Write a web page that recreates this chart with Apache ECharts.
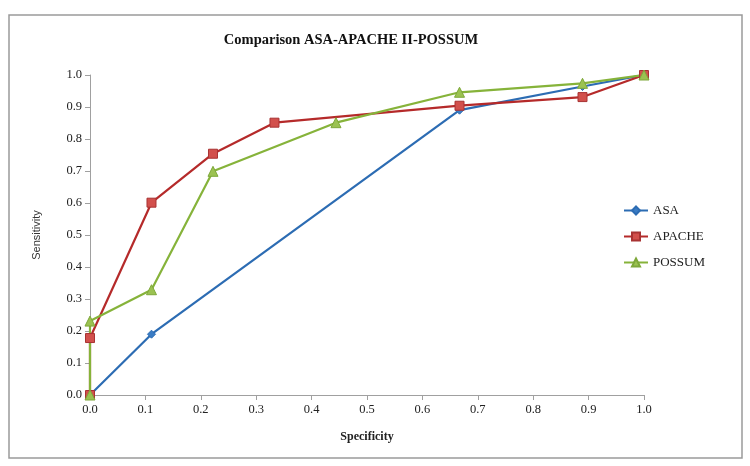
<!DOCTYPE html>
<html>
<head>
<meta charset="utf-8">
<script src="https://cdn.jsdelivr.net/npm/echarts@6/dist/echarts.min.js"></script>
<style>html,body{margin:0;padding:0;background:#fff}#c{width:750px;height:466px}</style>
</head>
<body>
<div id="c"></div>
<script>
const titleText = 'Comparison ASA-APACHE II-POSSUM';
const seriesNames = ['ASA', 'APACHE', 'POSSUM'];
const asaX = [0, 0.111, 0.667, 0.889, 1.0];
const asaY = [0, 0.19, 0.89, 0.964, 1.0];
const apacheX = [0, 0, 0.111, 0.222, 0.333, 0.667, 0.889, 1.0];
const apacheY = [0, 0.178, 0.601, 0.754, 0.851, 0.904, 0.931, 1.0];
const possumX = [0, 0, 0.111, 0.222, 0.444, 0.667, 0.889, 1.0];
const possumY = [0, 0.231, 0.329, 0.699, 0.851, 0.946, 0.974, 1.0];
const xLabel = 'Specificity';
const yLabel = 'Sensitivity';

function pairs(xs, ys) { return xs.map((x, i) => [x, ys[i]]); }

const chart = echarts.init(document.getElementById('c'));
const serif = 'Liberation Serif';
chart.setOption({
  animation: false,
  backgroundColor: '#fff',
  title: {
    text: titleText, left: 346, top: 28, textAlign: 'center',
    textStyle: { fontFamily: serif, fontSize: 14.5, fontWeight: 'bold', color: '#111' }
  },
  graphic: [{
    type: 'rect', shape: { x: 9, y: 15, width: 733, height: 443 },
    style: { fill: null, stroke: '#9a9a9a', lineWidth: 1.5 }, silent: true
  }],
  grid: { left: 90, right: 106, top: 75, bottom: 71 },
  legend: {
    orient: 'vertical', left: 618, top: 199, itemGap: 13, itemWidth: 24, itemHeight: 10,
    data: seriesNames,
    textStyle: { fontFamily: serif, fontSize: 13, color: '#222' }
  },
  xAxis: {
    type: 'value', min: 0, max: 1, interval: 0.1,
    name: xLabel, nameLocation: 'middle', nameGap: 36,
    nameTextStyle: { fontFamily: serif, fontSize: 12, fontWeight: 'bold', color: '#222' },
    axisLine: { lineStyle: { color: '#a0a0a0', width: 1 } },
    axisTick: { show: true, length: 5, lineStyle: { color: '#a0a0a0' } },
    axisLabel: { fontFamily: serif, fontSize: 12.5, color: '#222', margin: 8, formatter: v => v.toFixed(1) },
    splitLine: { show: false }
  },
  yAxis: {
    type: 'value', min: 0, max: 1, interval: 0.1,
    name: yLabel, nameLocation: 'middle', nameGap: 48, nameRotate: 90,
    nameTextStyle: { fontFamily: 'Liberation Sans', fontSize: 11, color: '#333' },
    axisLine: { show: true, lineStyle: { color: '#a0a0a0', width: 1 } },
    axisTick: { show: true, length: 5, lineStyle: { color: '#a0a0a0' } },
    axisLabel: { fontFamily: serif, fontSize: 12.5, color: '#222', margin: 8, formatter: v => v.toFixed(1) },
    splitLine: { show: false }
  },
  series: [
    {
      name: seriesNames[0], type: 'line', data: pairs(asaX, asaY),
      symbol: 'diamond', symbolSize: 8,
      lineStyle: { color: '#2c6cb3', width: 2.2 },
      itemStyle: { color: '#3a7cc4', borderColor: '#2c6cb3', borderWidth: 1 }
    },
    {
      name: seriesNames[1], type: 'line', data: pairs(apacheX, apacheY),
      symbol: 'rect', symbolSize: 9,
      lineStyle: { color: '#b52a2a', width: 2.2 },
      itemStyle: { color: '#d2504c', borderColor: '#a83333', borderWidth: 1 }
    },
    {
      name: seriesNames[2], type: 'line', data: pairs(possumX, possumY),
      symbol: 'triangle', symbolSize: 10,
      lineStyle: { color: '#86b33a', width: 2.2 },
      itemStyle: { color: '#9bc251', borderColor: '#7ea83a', borderWidth: 1 }
    }
  ]
});
</script>
</body>
</html>
